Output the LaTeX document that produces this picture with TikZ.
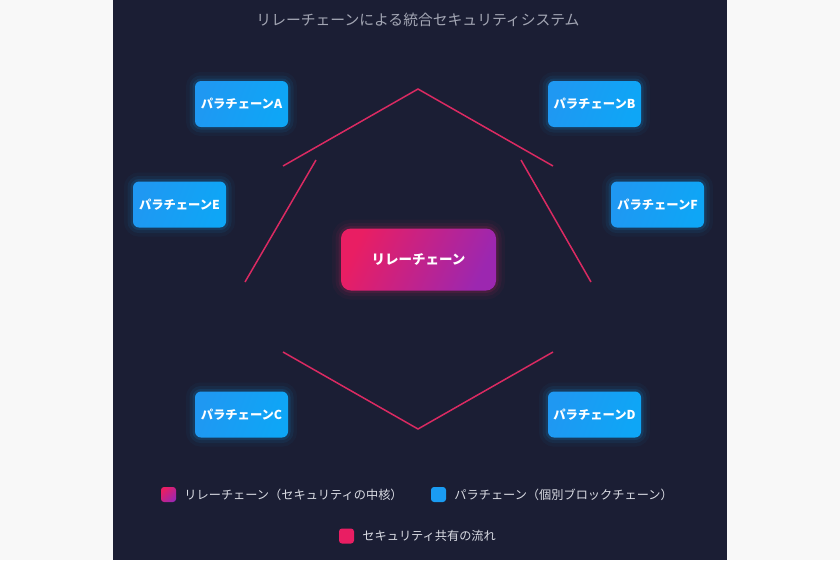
\documentclass[tikz,border=0pt]{standalone}
\usepackage{fontspec}
\setmainfont{Noto Sans CJK JP}
\usepackage{tikz}
\usetikzlibrary{positioning}
\definecolor{margin}{HTML}{F8F8F8}
\definecolor{navy}{HTML}{1B1E34}
\definecolor{flow}{HTML}{DA2A62}
\definecolor{paraL}{HTML}{1F98F2}
\definecolor{paraR}{HTML}{0EA6F6}
\definecolor{relayL}{HTML}{E91E63}
\definecolor{relayR}{HTML}{9C27B0}
\definecolor{titlegrey}{HTML}{A3A6B4}
\definecolor{legendtext}{HTML}{DADCE4}
\tikzset{
    glow/.style={preaction={draw=#1, line width=18pt, draw opacity=0.04},
        preaction={draw=#1, line width=11pt, draw opacity=0.07},
        preaction={draw=#1, line width=5pt, draw opacity=0.12}},
    para/.style={rounded corners=6pt, minimum width=93pt, minimum height=46pt,
        inner sep=0pt, left color=paraL, right color=paraR, shading angle=70,
        text=white, font=\bfseries\fontsize{12.3}{14}\selectfont, glow=paraR},
    relay/.style={rounded corners=10pt, minimum width=155pt, minimum height=62pt,
        inner sep=0pt, left color=relayL, right color=relayR, shading angle=65,
        text=white, font=\bfseries\fontsize{13.5}{15}\selectfont, glow=relayL},
    flowline/.style={draw=flow, line width=1.5pt, line join=miter},
    keybox/.style={rounded corners=3pt, minimum size=15pt, inner sep=0pt},
    keytext/.style={text=legendtext, inner sep=0pt, anchor=west,
        font=\fontsize{12.2}{14}\selectfont}
}

\begin{document}
\begin{tikzpicture}[x=1pt, y=-1pt]
    \useasboundingbox (0,0) rectangle (840,560);
    %background
    \fill[margin] (0,0) rectangle (840,560);
    \fill[navy] (113,0) rectangle (727,560);
    %title
    \node[text=titlegrey, font=\fontsize{14.8}{16}\selectfont] (title) at (418,20)
        {リレーチェーンによる統合セキュリティシステム};
    %flow lines
    \coordinate (tl) at (283,166);
    \coordinate (ttop) at (418,89);
    \coordinate (tr) at (553,166);
    \coordinate (lt) at (316,160);
    \coordinate (lb) at (245,282);
    \coordinate (rt) at (521,160);
    \coordinate (rb) at (591,282);
    \coordinate (bl) at (283,352);
    \coordinate (bbot) at (418,429);
    \coordinate (br) at (553,352);
    \draw[flowline] (tl) -- (ttop) -- (tr);
    \draw[flowline] (lt) -- (lb);
    \draw[flowline] (rt) -- (rb);
    \draw[flowline] (bl) -- (bbot) -- (br);
    %chains
    \node[relay] (relay) at (418.5,259.5) {リレーチェーン};
    \node[para] (A) at (241.5,104) {パラチェーンA};
    \node[para] (B) at (594.5,104) {パラチェーンB};
    \node[para] (E) at (179.5,204.5) {パラチェーンE};
    \node[para] (F) at (657.5,204.5) {パラチェーンF};
    \node[para] (C) at (241.5,414.5) {パラチェーンC};
    \node[para] (D) at (594.5,414.5) {パラチェーンD};
    %legend
    \node[keybox, left color=relayL, right color=relayR, shading angle=45] (key1) at (168.5,494.5) {};
    \node[keytext, right=8pt of key1] (text1) {リレーチェーン（セキュリティの中核）};
    \node[keybox, fill=paraL!70!paraR] (key2) at (438.5,494.5) {};
    \node[keytext, right=8pt of key2] (text2) {パラチェーン（個別ブロックチェーン）};
    \node[keybox, fill=relayL] (key3) at (346.5,536) {};
    \node[keytext, right=8pt of key3] (text3) {セキュリティ共有の流れ};
\end{tikzpicture}
\end{document}
